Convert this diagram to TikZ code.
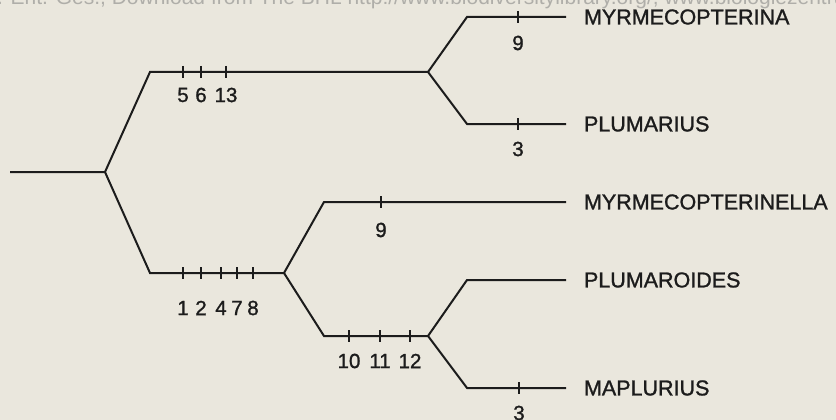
\documentclass[tikz,border=0pt]{standalone}
\usepackage{fontspec}
\setmainfont{Liberation Sans}
\newfontfamily\labelfont[FakeBold=1.2]{Liberation Sans}
\definecolor{paper}{HTML}{EAE7DD}
\definecolor{ink}{HTML}{1C1C1C}
\definecolor{stamp}{HTML}{AFAEA9}
\tikzset{
  branch/.style={draw=ink, line width=2pt},
  charmark/.style={draw=ink, line width=2.2pt},
  taxon/.style={anchor=west, inner sep=0pt, outer xsep=18pt, text=ink,
    font=\labelfont\fontsize{21.5}{24}\selectfont},
  charno/.style={inner sep=0pt, text=ink, font=\labelfont\fontsize{20.5}{22}\selectfont},
}
\begin{document}
\begin{tikzpicture}[x=1pt, y=-1pt]
		% Paper
		\fill[paper] (0,0) rectangle (836,420);
		\useasboundingbox (0,0) rectangle (836,420);
		
		% Library stamp
		\node[anchor=base west, inner sep=0pt, text=stamp, font=\fontsize{21}{24}\selectfont] (stamp) at (-9,5)
		{r. Ent. Ges., Download from The BHL http://www.biodiversitylibrary.org/; www.biologiezentrum.at};
		
		% Junctions and bends
		\coordinate (base) at (10,172);
		\coordinate (n0) at (105,172);
		\coordinate (u) at (150,72);
		\coordinate (n1) at (428,72);
		\coordinate (u1) at (467,17);
		\coordinate (u2) at (467,124);
		\coordinate (l) at (150,273);
		\coordinate (n2) at (284,273);
		\coordinate (l1) at (324,202);
		\coordinate (l2) at (324,336);
		\coordinate (n3) at (428,336);
		\coordinate (l3) at (467,280);
		\coordinate (l4) at (467,388);
		
		% Taxa
		\node[taxon] (myrmecopterina) at (566,17) {MYRMECOPTERINA};
		\node[taxon] (plumarius) at (566,124) {PLUMARIUS};
		\node[taxon] (myrmecopterinella) at (566,202) {MYRMECOPTERINELLA};
		\node[taxon] (plumaroides) at (566,280) {PLUMAROIDES};
		\node[taxon] (maplurius) at (566,388) {MAPLURIUS};
		
		% Branches
		\draw[branch] (base) -- (n0) -- (u) -- (n1);
		\draw[branch] (n0) -- (l) -- (n2);
		\draw[branch] (n1) -- (u1) -- (myrmecopterina);
		\draw[branch] (n1) -- (u2) -- (plumarius);
		\draw[branch] (n2) -- (l1) -- (myrmecopterinella);
		\draw[branch] (n2) -- (l2) -- (n3);
		\draw[branch] (n3) -- (l3) -- (plumaroides);
		\draw[branch] (n3) -- (l4) -- (maplurius);
		
		% Characters
		\foreach \x/\c in {183/5, 201/6, 226/13}
		\draw[charmark, shift={(\x,72)}] (0,-6) -- (0,6) node[charno] (u\c) at (0,23) {\c};
		
		\foreach \x/\c in {183/1, 201/2, 221/4, 237/7, 253/8}
		\draw[charmark, shift={(\x,273)}] (0,-6) -- (0,6) node[charno] (l\c) at (0,35) {\c};
		
		\foreach \x/\c in {349/10, 380/11, 410/12}
		\draw[charmark, shift={(\x,336)}] (0,-6) -- (0,6) node[charno] (m\c) at (0,25) {\c};
		
		\draw[charmark, shift={(518,17)}] (0,-6) -- (0,6) node[charno] (a9) at (0,26) {9};
		\draw[charmark, shift={(518,124)}] (0,-6) -- (0,6) node[charno] (b3) at (0,25) {3};
		\draw[charmark, shift={(381,202)}] (0,-6) -- (0,6) node[charno] (c9) at (0,28) {9};
		\draw[charmark, shift={(519,388)}] (0,-6) -- (0,6) node[charno] (d3) at (0,25) {3};
		\end{tikzpicture}
\end{document}
